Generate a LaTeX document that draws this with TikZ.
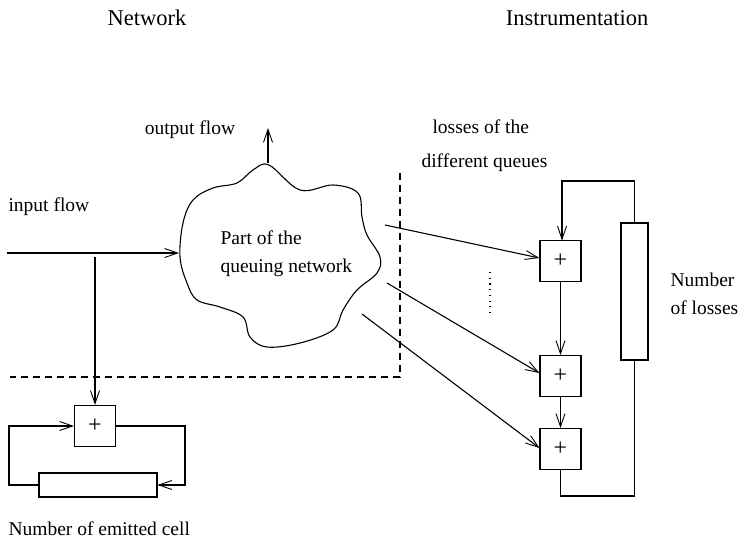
\documentclass[tikz,border=0pt]{standalone}
\usepackage{fontspec}
\setmainfont{Liberation Serif}
\usetikzlibrary{arrows.meta}
\begin{document}
\begin{tikzpicture}[x=1pt,y=-1pt,line width=1.1pt,
  arr/.style={-{Straight Barb[length=13pt,width=9pt,line width=0.9pt]}},
  plusbox/.style={draw,minimum width=41pt,minimum height=41pt,inner sep=0pt,font=\fontsize{24}{26}\selectfont},
  lbl/.style={font=\fontsize{19.5}{22}\selectfont,inner sep=0pt},
  ttl/.style={font=\fontsize{22.5}{25}\selectfont,inner sep=0pt},
  sep/.style={dash pattern=on 7pt off 5pt}]
\useasboundingbox (0,0) rectangle (743,541);
% titles
\node[ttl] (tnet) at (147,18) {Network};
\node[ttl] (tins) at (577,18) {Instrumentation};
% separators
\draw[sep] (400,173) -- (400,377) -- (10,377);
% cloud
\draw plot[smooth cycle,tension=0.6] coordinates {
 (269,165) (300,190) (333,185) (358,193) (362,217) (367,235) (380,257) (377,273)
 (357,290) (343,310) (333,330) (300,343) (267,347) (250,337) (243,317) (220,307)
 (197,300) (187,283) (180,257) (183,223) (193,200) (213,188) (237,183) (253,170)};
\node[lbl,anchor=west] (ctext1) at (220,238) {Part of the};
\node[lbl,anchor=west] (ctext2) at (220,268) {queuing network};
% output flow
\coordinate (ctop) at (268,163);
\coordinate (outend) at (268,128);
\draw[arr] (ctop) -- (outend);
\node[lbl] (tout) at (190,130) {output flow};
% input flow
\node[lbl,anchor=west] (tin) at (8,207) {input flow};
\coordinate (instart) at (7,253);
\coordinate (cleft) at (179,253);
\draw[arr] (instart) -- (cleft);
% emitted cells counter
\node[plusbox] (pe) at (95,426) {+};
\node[draw,minimum width=118pt,minimum height=24pt,inner sep=0pt] (re) at (98,485) {};
\coordinate (branch) at (95,257);
\draw[arr] (branch) -- (pe.north);
\draw[arr] (re.west) -- (9,485) -- (9,426) -- (pe.west);
\draw[arr] (pe.east) -- (185,426) -- (185,485) -- (re.east);
\node[lbl,anchor=west] (tem) at (8,529) {Number of emitted cell};
% losses
\node[lbl,anchor=west] (tl1) at (432,127) {losses of the};
\node[lbl,anchor=west] (tl2) at (421,163) {different queues};
\node[plusbox] (p1) at (560.5,261) {+};
\node[plusbox] (p2) at (560.5,376) {+};
\node[plusbox] (p3) at (560.5,449) {+};
\node[draw,minimum width=27pt,minimum height=137pt,inner sep=0pt] (rl) at (634.5,291.5) {};
\draw[arr] (rl.north) -- (634.5,181) -- (562,181) -- (562,240.5);
\draw[arr] (p1.south) -- (p2.north);
\draw[arr] (p2.south) -- (p3.north);
\draw (p3.south) -- (560.5,496) -- (634.5,496) -- (rl.south);
\coordinate (c1) at (385,225);
\coordinate (c2) at (387,283);
\coordinate (c3) at (362,314);
\draw[arr] (c1) -- (p1.west|-540,258);
\draw[arr] (c2) -- (p2.west|-540,373);
\draw[arr] (c3) -- (p3.west|-540,448);
\draw[line width=1.2pt,dash pattern=on 1.2pt off 4.5pt] (490,272) -- (490,314);
\node[lbl,anchor=west] (tnl1) at (670,280) {Number};
\node[lbl,anchor=west] (tnl2) at (670,308) {of losses};
\end{tikzpicture}
\end{document}
